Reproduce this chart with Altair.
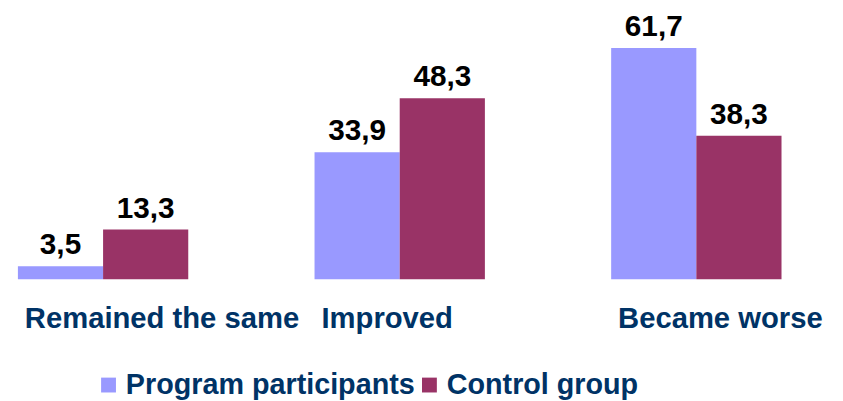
import altair as alt
import pandas as pd

categories = ["Remained the same", "Improved", "Became worse"]
series = ["Program participants", "Control group"]
program_values = [3.5, 33.9, 61.7]
control_values = [13.3, 48.3, 38.3]
colors = ["#9999FF", "#993366"]

rows = []
for c, p, k in zip(categories, program_values, control_values):
    rows.append({"category": c, "series": series[0], "value": p})
    rows.append({"category": c, "series": series[1], "value": k})
df = pd.DataFrame(rows)
df["label"] = df["value"].map(lambda v: f"{v:.1f}".replace(".", ","))

FONT = "Liberation Sans"
NAVY = "#003366"

x = alt.X(
    "category:N",
    sort=categories,
    scale=alt.Scale(paddingInner=0.4257, paddingOuter=0.0334),
    axis=alt.Axis(
        title=None, domain=False, ticks=False, tickSize=0, grid=False,
        labelAngle=0, labelAlign="left", labelBaseline="alphabetic",
        labelPadding=49, labelOffset=-79, labelLimit=0,
        labelFont=FONT, labelFontSize=29.5, labelFontWeight="bold", labelColor=NAVY,
    ),
)
xo = alt.XOffset("series:N", sort=series, scale=alt.Scale(paddingInner=0, paddingOuter=0))
y = alt.Y("value:Q", scale=alt.Scale(domain=[0, 70]), axis=None)

bars = alt.Chart(df).mark_bar().encode(
    x=x,
    xOffset=xo,
    y=y,
    color=alt.Color(
        "series:N",
        sort=series,
        scale=alt.Scale(domain=series, range=colors),
        legend=alt.Legend(
            title=None, orient="none", legendX=87, legendY=357,
            direction="horizontal", symbolType="square", symbolSize=225,
            symbolStrokeWidth=0, labelFont=FONT, labelFontSize=29,
            labelFontWeight="bold", labelColor=NAVY, labelOffset=3,
            columnPadding=-3, padding=0, labelLimit=0,
        ),
    ),
)

labels = alt.Chart(df).mark_text(
    baseline="alphabetic", dy=-12, font=FONT, fontSize=30, fontWeight="bold", color="black"
).encode(x=x, xOffset=xo, y=y, text="label:N")

chart = alt.layer(bars, labels).properties(
    width=791,
    height=265,
    padding={"left": 0, "top": 7, "right": 44, "bottom": 130},
    autosize=alt.AutoSizeParams(type="none"),
).configure_view(stroke=None)

chart.save("out.html", embed_options={"renderer": "svg", "actions": False})
